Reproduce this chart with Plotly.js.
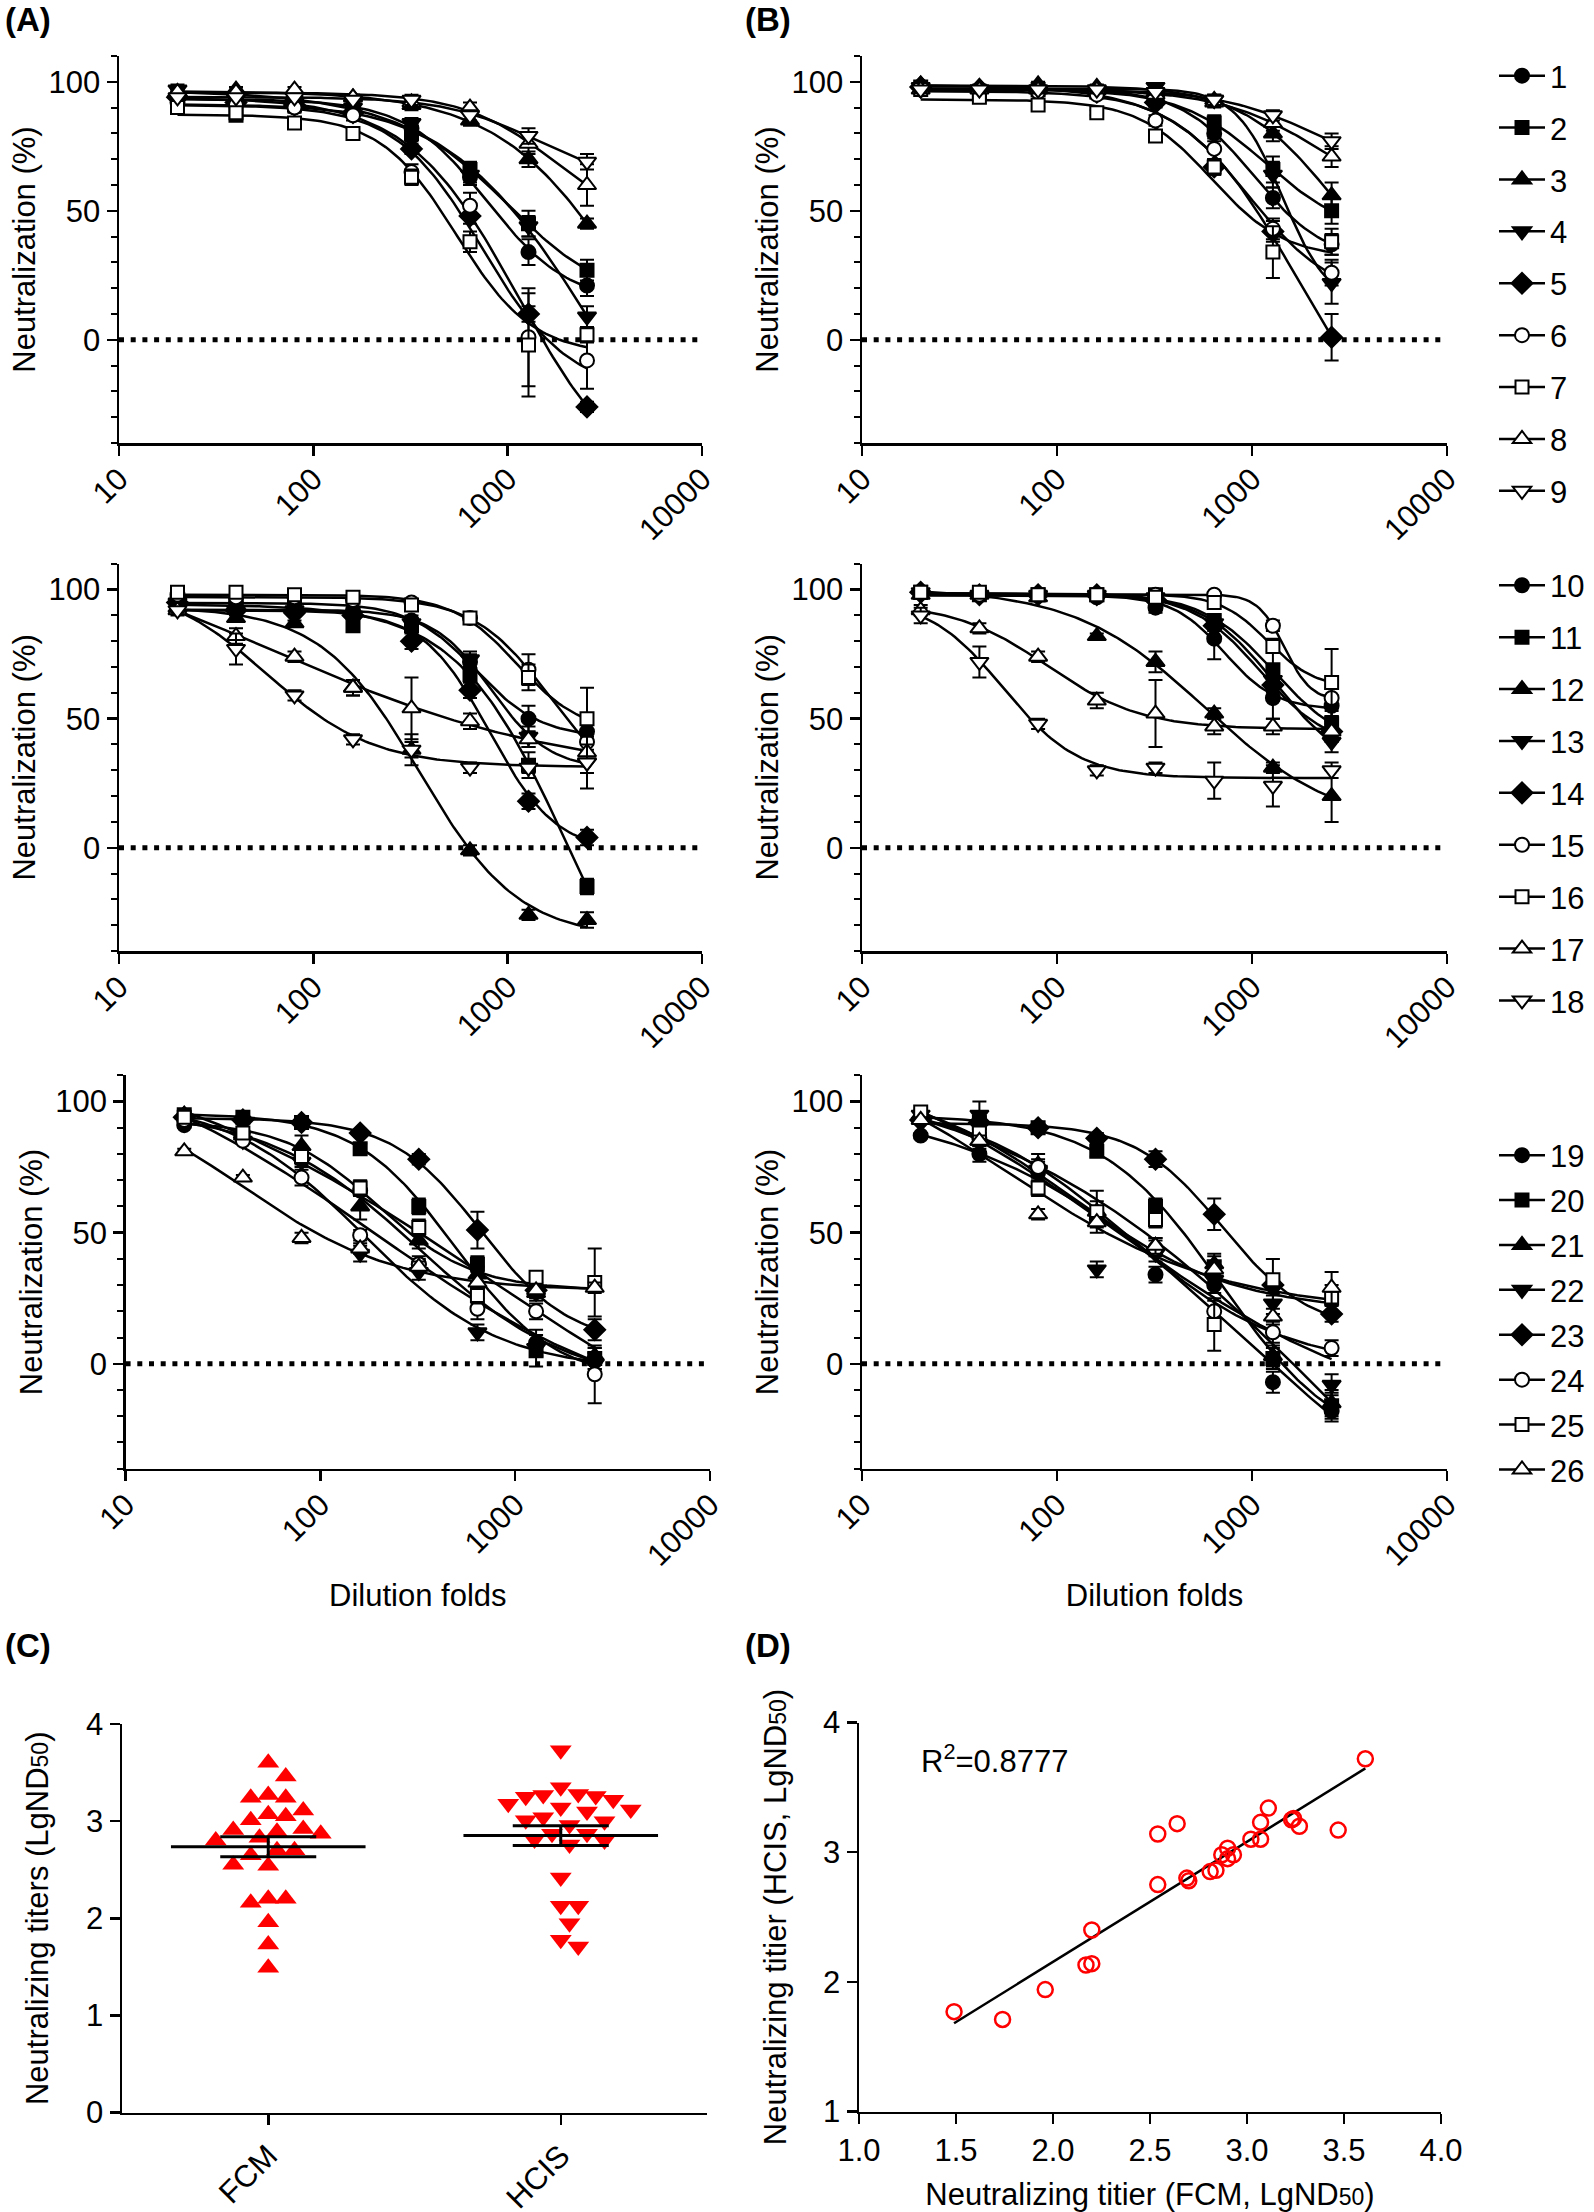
<!DOCTYPE html>
<html>
<head>
<meta charset="utf-8">
<script src="https://cdn.plot.ly/plotly-3.0.1.min.js"></script>
<style>html,body{margin:0;padding:0;background:#fff}#chart{width:1594px;height:2212px}</style>
</head>
<body>
<div id="chart"></div>
<script>
// ---------------- DATA ----------------
const DILUTIONS = [20, 40, 80, 160, 320, 640, 1280, 2560];
const X_TICKS = [10, 100, 1000, 10000];
const X_TICK_TEXT = ['10', '100', '1000', '10000'];

const SAMPLES_ROW1 = ['1', '2', '3', '4', '5', '6', '7', '8', '9'];
const SAMPLES_ROW2 = ['10', '11', '12', '13', '14', '15', '16', '17', '18'];
const SAMPLES_ROW3 = ['19', '20', '21', '22', '23', '24', '25', '26'];

// (A)/(B) rows: neutralization (%) at each dilution, mean and error
const FCM_ROW1 = [
  [95, 93, 92, 89, 82, 63, 34, 21],
  [93, 87, 91, 90, 80, 66, 45, 27],
  [96, 97, 95, 94, 91, 85, 70, 45],
  [97, 94, 92, 90, 84, 64, 44, 9],
  [94, 92, 91, 88, 74, 48, 10, -26],
  [92, 91, 90, 87, 65, 52, 1, -8],
  [90, 88, 84, 80, 63, 38, -2, 2],
  [96, 96, 97, 94, 92, 90, 76, 60],
  [94, 94, 94, 93, 93, 87, 79, 69]
];
const FCM_ROW1_ERR = [
  [2, 2, 2, 2, 2, 3, 5, 4], [2, 2, 2, 2, 3, 3, 5, 4], [1, 1, 1, 1, 2, 2, 3, 2],
  [2, 2, 2, 2, 2, 3, 4, 4], [1, 1, 1, 1, 2, 3, 3, 2], [2, 2, 2, 2, 3, 5, 19, 11],
  [2, 2, 2, 2, 3, 4, 20, 3], [1, 1, 1, 1, 1, 2, 4, 8], [1, 1, 1, 1, 2, 2, 3, 3]
];
const HCIS_ROW1 = [
  [98, 97, 97, 96, 94, 80, 55, 37],
  [98, 96, 97, 96, 93, 84, 66, 50],
  [99, 98, 99, 98, 96, 93, 80, 56],
  [98, 97, 97, 97, 98, 93, 64, 22],
  [98, 97, 97, 96, 92, 67, 42, 1],
  [97, 96, 96, 95, 85, 74, 43, 26],
  [97, 94, 91, 88, 79, 67, 34, 38],
  [97, 97, 97, 97, 95, 92, 84, 71],
  [97, 97, 97, 97, 96, 93, 87, 77]
];
const HCIS_ROW1_ERR = [
  [1, 1, 1, 1, 2, 3, 4, 4], [1, 1, 1, 1, 2, 3, 5, 5], [1, 1, 1, 1, 1, 2, 3, 5],
  [1, 1, 1, 1, 1, 2, 5, 8], [1, 1, 1, 1, 2, 3, 4, 9], [1, 1, 1, 1, 2, 4, 4, 5],
  [1, 1, 1, 1, 2, 3, 10, 5], [1, 1, 1, 1, 1, 2, 3, 4], [1, 1, 1, 1, 1, 2, 2, 3]
];
const FCM_ROW2 = [
  [97, 95, 94, 92, 88, 72, 50, 45],
  [96, 94, 93, 86, 86, 67, 32, -15],
  [93, 89, 87, 62, 38, -1, -26, -28],
  [95, 92, 92, 90, 87, 73, 43, 33],
  [95, 92, 91, 90, 80, 61, 18, 4],
  [98, 97, 97, 96, 95, 89, 69, 41],
  [99, 99, 98, 97, 94, 89, 66, 50],
  [92, 82, 74, 62, 54, 49, 42, 37],
  [92, 77, 59, 42, 38, 31, 31, 33]
];
const FCM_ROW2_ERR = [
  [1, 1, 1, 1, 2, 3, 5, 5], [1, 1, 1, 2, 2, 3, 5, 3], [1, 1, 1, 3, 3, 2, 2, 3],
  [1, 1, 1, 1, 2, 3, 4, 4], [1, 1, 1, 1, 3, 3, 3, 3], [1, 1, 1, 1, 1, 2, 6, 5],
  [1, 1, 1, 1, 1, 2, 5, 12], [2, 3, 2, 3, 12, 3, 3, 3], [1, 6, 2, 2, 6, 2, 2, 10]
];
const HCIS_ROW2 = [
  [99, 98, 98, 97, 93, 81, 58, 55],
  [99, 98, 98, 98, 98, 88, 69, 48],
  [98, 98, 97, 82, 72, 52, 31, 20],
  [99, 98, 98, 98, 97, 87, 65, 41],
  [99, 98, 98, 98, 96, 86, 63, 45],
  [99, 98, 98, 98, 98, 98, 86, 58],
  [99, 99, 98, 98, 97, 95, 78, 64],
  [92, 85, 74, 57, 52, 47, 47, 45],
  [90, 72, 48, 30, 31, 26, 24, 30]
];
const HCIS_ROW2_ERR = [
  [1, 1, 1, 1, 2, 8, 8, 4], [1, 1, 1, 1, 1, 2, 12, 5], [1, 1, 1, 1, 4, 2, 2, 10],
  [1, 1, 1, 1, 1, 2, 3, 4], [1, 1, 1, 1, 1, 2, 3, 4], [1, 1, 1, 1, 1, 1, 2, 4],
  [1, 1, 1, 1, 1, 1, 2, 13], [2, 2, 2, 3, 13, 3, 3, 3], [3, 6, 2, 2, 2, 7, 8, 3]
];
const FCM_ROW3 = [
  [91, 88, 78, 66, 38, 30, 8, 1],
  [95, 94, 92, 82, 60, 38, 5, 2],
  [95, 87, 83, 60, 47, 34, 27, 3],
  [93, 85, 77, 42, 35, 12, 6, 0],
  [94, 93, 92, 88, 78, 51, 28, 13],
  [93, 85, 71, 49, 38, 21, 20, -4],
  [94, 88, 79, 67, 52, 26, 33, 31],
  [81, 71, 48, 44, 37, 31, 28, 29]
];
const FCM_ROW3_ERR = [
  [1, 1, 2, 2, 3, 3, 5, 3], [1, 1, 2, 2, 3, 3, 6, 4], [1, 1, 4, 5, 3, 3, 3, 3],
  [1, 1, 2, 3, 3, 3, 3, 4], [1, 1, 1, 1, 2, 7, 3, 4], [1, 1, 3, 2, 2, 4, 3, 11],
  [1, 1, 2, 3, 3, 3, 2, 13], [1, 1, 2, 2, 2, 2, 2, 2]
];
const HCIS_ROW3 = [
  [87, 80, 73, 55, 34, 30, -7, -18],
  [94, 92, 90, 81, 60, 37, 2, -16],
  [95, 85, 76, 58, 45, 38, 3, -15],
  [95, 95, 74, 36, 42, 32, 23, -8],
  [93, 92, 90, 86, 78, 57, 30, 19],
  [94, 86, 75, 57, 44, 20, 12, 6],
  [96, 88, 67, 58, 55, 15, 32, 25],
  [93, 85, 57, 54, 45, 36, 18, 29]
];
const HCIS_ROW3_ERR = [
  [1, 3, 2, 2, 3, 3, 4, 4], [1, 2, 2, 2, 3, 4, 4, 5], [1, 3, 4, 4, 3, 4, 4, 5],
  [1, 5, 3, 3, 3, 3, 4, 4], [1, 2, 1, 2, 3, 6, 4, 3], [1, 2, 3, 3, 3, 4, 4, 3],
  [1, 2, 3, 8, 3, 10, 8, 5], [1, 2, 2, 2, 3, 3, 3, 6]
];

// (C) neutralizing titers (LgND50)
const TITER_GROUPS = ['FCM', 'HCIS'];
const TITER_FCM = [3.60, 3.46, 3.24, 3.24, 3.27, 3.07, 3.11, 3.05, 3.01, 2.92, 2.89, 2.91, 2.87,
  2.83, 2.80, 2.70, 2.70, 2.65, 2.54, 2.55, 2.20, 2.20, 2.16, 1.96, 1.73, 1.49];
const TITER_HCIS = [3.73, 3.35, 3.26, 3.25, 3.18, 3.22, 3.28, 3.27, 3.12, 3.10, 3.14, 3.04, 3.01,
  2.96, 3.00, 2.87, 2.87, 2.81, 2.76, 2.80, 2.42, 2.13, 2.13, 1.95, 1.71, 1.78];

// (D) correlation
const CORR_FCM = [1.49, 1.74, 1.96, 2.17, 2.20, 2.20, 2.54, 2.54, 2.64, 2.69, 2.70, 2.81, 2.84,
  2.87, 2.90, 2.90, 2.93, 3.02, 3.07, 3.07, 3.11, 3.23, 3.24, 3.27, 3.47, 3.61];
const CORR_HCIS = [1.77, 1.71, 1.94, 2.13, 2.14, 2.40, 2.75, 3.14, 3.22, 2.80, 2.78, 2.85, 2.86,
  2.98, 3.03, 2.95, 2.98, 3.10, 3.10, 3.23, 3.34, 3.25, 3.26, 3.20, 3.17, 3.72];
const R2_LABEL = 'R<sup>2</sup>=0.8777';

// ---------------- STYLE ----------------
const FONT = 'Liberation Sans, Arial, Helvetica, sans-serif';
const FS = 31;
const BLACK = '#000';
const RED = '#ff0000';
const SYMBOLS = ['circle', 'square', 'triangle-up', 'triangle-down', 'diamond',
                 'circle', 'square', 'triangle-up', 'triangle-down'];
const SYM_SIZE = {'circle': 14, 'square': 13, 'triangle-up': 16, 'triangle-down': 16, 'diamond': 16};

// ---------------- 4PL FIT ----------------
function nelderMead(f, x0, steps, iters) {
  const n = x0.length;
  let S = [x0.slice()];
  for (let i = 0; i < n; i++) { const p = x0.slice(); p[i] += steps[i]; S.push(p); }
  let V = S.map(f);
  for (let it = 0; it < iters; it++) {
    const idx = V.map((v, i) => i).sort((a, b) => V[a] - V[b]);
    S = idx.map(i => S[i]); V = idx.map(i => V[i]);
    const c = new Array(n).fill(0);
    for (let i = 0; i < n; i++) for (let j = 0; j < n; j++) c[j] += S[i][j] / n;
    const w = S[n];
    const xr = c.map((cj, j) => cj + (cj - w[j])); const fr = f(xr);
    if (fr < V[0]) {
      const xe = c.map((cj, j) => cj + 2 * (cj - w[j])); const fe = f(xe);
      if (fe < fr) { S[n] = xe; V[n] = fe; } else { S[n] = xr; V[n] = fr; }
    } else if (fr < V[n - 1]) { S[n] = xr; V[n] = fr; }
    else {
      const xc = fr < V[n] ? c.map((cj, j) => cj + 0.5 * (xr[j] - cj)) : c.map((cj, j) => cj + 0.5 * (w[j] - cj));
      const fc = f(xc);
      if (fc < Math.min(fr, V[n])) { S[n] = xc; V[n] = fc; }
      else {
        for (let i = 1; i <= n; i++) { S[i] = S[i].map((v, j) => S[0][j] + 0.5 * (v - S[0][j])); V[i] = f(S[i]); }
      }
    }
  }
  let b = 0; for (let i = 1; i <= n; i++) if (V[i] < V[b]) b = i;
  return {p: S[b], v: V[b]};
}
const model4pl = (p, t) => p[1] + (p[0] - p[1]) / (1 + Math.pow(10, (t - p[2]) * p[3]));
function fit4pl(xs, ys) {
  const lx = xs.map(Math.log10);
  const sse = p => {
    let pen = 0;
    if (p[3] < 0.3) pen += 1e4 * (0.3 - p[3]); if (p[3] > 8) pen += 1e4 * (p[3] - 8);
    if (p[2] < 0.5) pen += 1e4 * (0.5 - p[2]); if (p[2] > 5) pen += 1e4 * (p[2] - 5);
    if (p[0] > 125) pen += 1e3 * (p[0] - 125); if (p[1] < -150) pen += 1e3 * (-150 - p[1]);
    let s = 0; for (let i = 0; i < lx.length; i++) { const r = ys[i] - model4pl(p, lx[i]); s += r * r; }
    return s + pen;
  };
  const mx = Math.max(...ys), mn = Math.min(...ys);
  let best = null;
  for (const c0 of [2.0, 2.5, 3.0, 3.5]) for (const h0 of [0.8, 1.5, 3]) {
    const r = nelderMead(sse, [mx + 1, mn - 5, c0, h0], [5, 10, 0.3, 0.5], 1500);
    if (!best || r.v < best.v) best = r;
  }
  return best.p;
}
function curveOf(xs, ys) {
  const p = fit4pl(xs, ys);
  const t0 = Math.log10(xs[0]), t1 = Math.log10(xs[xs.length - 1]);
  const cx = [], cy = [];
  for (let i = 0; i <= 120; i++) { const t = t0 + (t1 - t0) * i / 120; cx.push(Math.pow(10, t)); cy.push(model4pl(p, t)); }
  return {cx, cy};
}

// ---------------- TRACES ----------------
const curveTraces = [], pointTraces = [];
function markerFor(i) {
  const sym = SYMBOLS[i];
  const open = i >= 5;
  return {symbol: sym, size: SYM_SIZE[sym], color: open ? '#fff' : BLACK, line: {color: BLACK, width: 2}};
}
function addPanel(names, vals, errs, xa, ya, legendId, showLegend) {
  names.forEach((nm, i) => {
    const {cx, cy} = curveOf(DILUTIONS, vals[i]);
    curveTraces.push({
      type: 'scatter', mode: 'lines+markers', x: cx, y: cy, xaxis: xa, yaxis: ya,
      name: nm, legend: legendId, legendgroup: legendId + '_' + nm, showlegend: showLegend,
      line: {color: BLACK, width: 2.5}, marker: markerFor(i),
      selectedpoints: [], unselected: {marker: {opacity: 0}}, hoverinfo: 'skip'
    });
    pointTraces.push({
      type: 'scatter', mode: 'markers', x: DILUTIONS, y: vals[i], xaxis: xa, yaxis: ya,
      name: nm, legendgroup: legendId + '_' + nm, showlegend: false, cliponaxis: false,
      marker: markerFor(i),
      error_y: {type: 'data', array: errs[i], visible: true, color: BLACK, thickness: 2, width: 7}
    });
  });
}
addPanel(SAMPLES_ROW1, FCM_ROW1, FCM_ROW1_ERR, 'x', 'y', 'legend', true);
addPanel(SAMPLES_ROW1, HCIS_ROW1, HCIS_ROW1_ERR, 'x2', 'y2', 'legend', false);
addPanel(SAMPLES_ROW2, FCM_ROW2, FCM_ROW2_ERR, 'x3', 'y3', 'legend2', true);
addPanel(SAMPLES_ROW2, HCIS_ROW2, HCIS_ROW2_ERR, 'x4', 'y4', 'legend2', false);
addPanel(SAMPLES_ROW3, FCM_ROW3, FCM_ROW3_ERR, 'x5', 'y5', 'legend3', true);
addPanel(SAMPLES_ROW3, HCIS_ROW3, HCIS_ROW3_ERR, 'x6', 'y6', 'legend3', false);

// (C) beeswarm
const C_PX_PER_X = 292.5, C_PX_PER_Y = 97.15;
function beeswarm(values, diam, step) {
  const order = values.map((v, i) => i).sort((a, b) => values[b] - values[a]);
  const placed = [], offs = new Array(values.length).fill(0);
  for (const i of order) {
    const ypx = values[i] * C_PX_PER_Y;
    for (let k = 0; k < 60; k++) {
      const m = k === 0 ? 0 : (k % 2 ? Math.ceil(k / 2) : -Math.ceil(k / 2));
      const xpx = m * step;
      if (placed.every(p => (p.x - xpx) ** 2 + (p.y - ypx) ** 2 >= diam * diam)) {
        placed.push({x: xpx, y: ypx}); offs[i] = xpx / C_PX_PER_X; break;
      }
    }
  }
  return offs;
}
const meanOf = a => a.reduce((s, v) => s + v, 0) / a.length;
const semOf = a => { const m = meanOf(a); return Math.sqrt(a.reduce((s, v) => s + (v - m) ** 2, 0) / (a.length - 1)) / Math.sqrt(a.length); };
const cTraces = [];
[TITER_FCM, TITER_HCIS].forEach((vals, g) => {
  const offs = beeswarm(vals, 17.5, 8.75);
  cTraces.push({
    type: 'scatter', mode: 'markers', x: offs.map(o => g + o), y: vals, xaxis: 'x7', yaxis: 'y7',
    showlegend: false, cliponaxis: false,
    marker: {symbol: g === 0 ? 'triangle-up' : 'triangle-down', size: 19, color: RED, line: {width: 0}}
  });
  cTraces.push({
    type: 'scatter', mode: 'markers', x: [g], y: [meanOf(vals)], xaxis: 'x7', yaxis: 'y7', showlegend: false,
    marker: {symbol: 'line-ew', size: 139, color: BLACK, line: {color: BLACK, width: 3}},
    error_y: {type: 'data', array: [semOf(vals)], visible: true, color: BLACK, thickness: 3, width: 48}
  });
});

// (D) correlation + least-squares line
const mX = meanOf(CORR_FCM), mY = meanOf(CORR_HCIS);
let sxy = 0, sxx = 0;
CORR_FCM.forEach((x, i) => { sxy += (x - mX) * (CORR_HCIS[i] - mY); sxx += (x - mX) ** 2; });
const slope = sxy / sxx, icpt = mY - slope * mX;
const xMin = Math.min(...CORR_FCM), xMax = Math.max(...CORR_FCM);
const dTraces = [
  {type: 'scatter', mode: 'lines', x: [xMin, xMax], y: [icpt + slope * xMin, icpt + slope * xMax],
   xaxis: 'x8', yaxis: 'y8', showlegend: false, line: {color: BLACK, width: 2.5}},
  {type: 'scatter', mode: 'markers', x: CORR_FCM, y: CORR_HCIS, xaxis: 'x8', yaxis: 'y8', showlegend: false,
   marker: {symbol: 'circle-open', size: 15, color: RED, line: {color: RED, width: 2.5}}}
];

// ---------------- LAYOUT ----------------
const W = 1594, H = 2212;
const px = v => v / W, py = v => 1 - v / H;
const tickFont = {family: FONT, size: FS, color: BLACK};
const titleFont = {family: FONT, size: FS, color: BLACK};
const baseAxis = {
  showline: true, linewidth: 2.5, linecolor: BLACK, ticks: 'outside', ticklen: 10, tickwidth: 2.5,
  tickcolor: BLACK, showgrid: false, zeroline: false, tickfont: tickFont, automargin: false, fixedrange: true
};
function curveX(x0, x1, yId, withTitle) {
  const ax = Object.assign({}, baseAxis, {
    type: 'log', range: [1, 4], domain: [px(x0), px(x1)], anchor: yId,
    tickmode: 'array', tickvals: X_TICKS, ticktext: X_TICK_TEXT, tickangle: -45, ticklabelstandoff: -7
  });
  if (withTitle) { ax.automargin = true; ax.title = {text: 'Dilution folds', font: titleFont, standoff: 13}; }
  return ax;
}
function curveY(top, bot, xId) {
  return Object.assign({}, baseAxis, {
    range: [-40, 110], domain: [py(bot), py(top)], anchor: xId, automargin: true,
    tickmode: 'linear', tick0: 0, dtick: 50,
    minor: {tickmode: 'linear', tick0: 0, dtick: 10, ticks: 'outside', ticklen: 6, tickwidth: 2, tickcolor: BLACK, showgrid: false},
    title: {text: 'Neutralization (%)', font: titleFont, standoff: 4}
  });
}
const ROWS = [[56, 443], [563.8, 951], [1075.3, 1468.7]];
const COLA = [[119, 702], [119, 702], [125.6, 710]];
const COLB = [862, 1447];
const legendBase = {x: px(1494), xanchor: 'left', yanchor: 'top', font: {family: FONT, size: FS, color: BLACK},
  bgcolor: 'rgba(0,0,0,0)', itemwidth: 46, itemclick: false, itemdoubleclick: false};

const layout = {
  width: W, height: H, margin: {l: 0, r: 0, t: 0, b: 0, autoexpand: false},
  paper_bgcolor: '#fff', plot_bgcolor: '#fff', showlegend: true,
  font: {family: FONT, size: FS, color: BLACK},
  xaxis: curveX(COLA[0][0], COLA[0][1], 'y', false), yaxis: curveY(ROWS[0][0], ROWS[0][1], 'x'),
  xaxis2: curveX(COLB[0], COLB[1], 'y2', false), yaxis2: curveY(ROWS[0][0], ROWS[0][1], 'x2'),
  xaxis3: curveX(COLA[1][0], COLA[1][1], 'y3', false), yaxis3: curveY(ROWS[1][0], ROWS[1][1], 'x3'),
  xaxis4: curveX(COLB[0], COLB[1], 'y4', false), yaxis4: curveY(ROWS[1][0], ROWS[1][1], 'x4'),
  xaxis5: curveX(COLA[2][0], COLA[2][1], 'y5', true), yaxis5: curveY(ROWS[2][0], ROWS[2][1], 'x5'),
  xaxis6: curveX(COLB[0], COLB[1], 'y6', true), yaxis6: curveY(ROWS[2][0], ROWS[2][1], 'x6'),
  xaxis7: Object.assign({}, baseAxis, {
    range: [-0.5, 1.5], domain: [px(122), px(707)], anchor: 'y7',
    tickmode: 'array', tickvals: [0, 1], ticktext: TITER_GROUPS, tickangle: -45
  }),
  yaxis7: Object.assign({}, baseAxis, {
    range: [0, 4], domain: [py(2112.6), py(1724)], anchor: 'x7', tickmode: 'linear', tick0: 0, dtick: 1,
    title: {text: 'Neutralizing titers (LgND<span style="font-size:23px">50</span>)', font: titleFont}
  }),
  xaxis8: Object.assign({}, baseAxis, {
    range: [1, 4], domain: [px(859), px(1441)], anchor: 'y8', tickmode: 'linear', tick0: 1, dtick: 0.5, tickformat: '.1f',
    title: {text: 'Neutralizing titier (FCM, LgND<span style="font-size:23px">50</span>)', font: titleFont}
  }),
  yaxis8: Object.assign({}, baseAxis, {
    range: [1, 4], domain: [py(2111.5), py(1722.5)], anchor: 'x8', tickmode: 'linear', tick0: 1, dtick: 1,
    title: {text: 'Neutralizing titier (HCIS, LgND<span style="font-size:23px">50</span>)', font: titleFont}
  }),
  legend: Object.assign({}, legendBase, {y: py(49), tracegroupgap: 8.6}),
  legend2: Object.assign({}, legendBase, {y: py(558.6), tracegroupgap: 8.6}),
  legend3: Object.assign({}, legendBase, {y: py(1128.5), tracegroupgap: 1.6}),
  shapes: ['y', 'y2', 'y3', 'y4', 'y5', 'y6'].map((yr, i) => ({
    type: 'line', xref: (i === 0 ? 'x' : 'x' + (i + 1)) + ' domain', x0: 0, x1: 1, yref: yr, y0: 0, y1: 0,
    line: {color: BLACK, width: 5, dash: '5px,6.7px'}, layer: 'below'
  })),
  annotations: [
    {text: '<b>(A)</b>', xref: 'paper', yref: 'paper', x: px(3), y: py(20), xanchor: 'left', yanchor: 'middle', showarrow: false, font: {family: FONT, size: 33, color: BLACK}},
    {text: '<b>(B)</b>', xref: 'paper', yref: 'paper', x: px(743), y: py(20), xanchor: 'left', yanchor: 'middle', showarrow: false, font: {family: FONT, size: 33, color: BLACK}},
    {text: '<b>(C)</b>', xref: 'paper', yref: 'paper', x: px(3), y: py(1645), xanchor: 'left', yanchor: 'middle', showarrow: false, font: {family: FONT, size: 33, color: BLACK}},
    {text: '<b>(D)</b>', xref: 'paper', yref: 'paper', x: px(743), y: py(1645), xanchor: 'left', yanchor: 'middle', showarrow: false, font: {family: FONT, size: 33, color: BLACK}},
    {text: R2_LABEL, xref: 'x8', yref: 'y8', x: 1.31, y: 3.72, xanchor: 'left', yanchor: 'middle', showarrow: false, font: {family: FONT, size: FS, color: BLACK}}
  ]
};

Plotly.newPlot('chart', [...curveTraces, ...pointTraces, ...cTraces, ...dTraces], layout,
  {displayModeBar: false, staticPlot: true});
</script>
</body>
</html>
